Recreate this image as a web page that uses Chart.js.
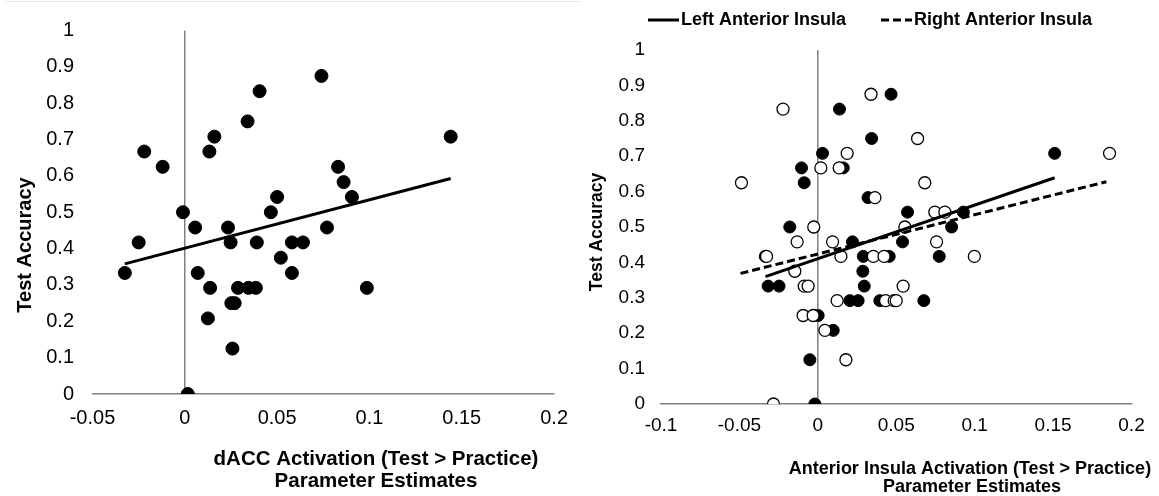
<!DOCTYPE html>
<html>
<head>
<meta charset="utf-8">
<script src="https://cdn.jsdelivr.net/npm/chart.js@4.4.1/dist/chart.umd.min.js"></script>
<style>
  html, body { margin: 0; padding: 0; background: #fff; }
  #wrap { position: relative; width: 1159px; height: 496px; overflow: hidden; }
  #topline { position: absolute; left: 5px; top: 1px; width: 575px; height: 1px; background: #e6e6e6; }
  .box { position: absolute; top: 0; height: 496px; }
  #leftBox { left: 0; width: 580px; }
  #rightBox { left: 580px; width: 579px; }
</style>
</head>
<body>
<div id="wrap">
  <div id="topline"></div>
  <div class="box" id="leftBox"><canvas id="daccChart"></canvas></div>
  <div class="box" id="rightBox"><canvas id="insulaChart"></canvas></div>
</div>
<script>
// ---- data ----
const yTicks = [0, 0.1, 0.2, 0.3, 0.4, 0.5, 0.6, 0.7, 0.8, 0.9, 1];
const daccXTicks = [-0.05, 0, 0.05, 0.1, 0.15, 0.2];
const insulaXTicks = [-0.1, -0.05, 0, 0.05, 0.1, 0.15, 0.2];

// dACC activation vs test accuracy
const daccX = [-0.0325, -0.025, -0.022, -0.012, -0.001, 0.0016, 0.0056, 0.007, 0.0125, 0.0133,
  0.0137, 0.016, 0.0234, 0.0248, 0.0252, 0.027, 0.0258, 0.0288, 0.034, 0.0345,
  0.0385, 0.039, 0.0405, 0.0466, 0.05, 0.052, 0.058, 0.058, 0.064, 0.074,
  0.077, 0.083, 0.086, 0.0905, 0.0986, 0.144];
const daccY = [0.333, 0.417, 0.667, 0.625, 0.5, 0, 0.458, 0.333, 0.208, 0.667,
  0.292, 0.708, 0.458, 0.417, 0.25, 0.25, 0.125, 0.292, 0.75, 0.292,
  0.292, 0.417, 0.833, 0.5, 0.542, 0.375, 0.417, 0.333, 0.417, 0.875,
  0.458, 0.625, 0.583, 0.542, 0.292, 0.708];
const daccFitX = [-0.0325, 0.144];
const daccFitY = [0.358, 0.593];

// left anterior insula (filled markers)
const leftInsX = [0.0138, 0.0467, 0.0343, 0.003, -0.0104, 0.0162, -0.0087, 0.151, 0.032, 0.0572,
  0.0928, 0.0853, -0.0179, 0.0221, 0.054, -0.0335, 0.029, 0.0455, 0.0774, 0.0287,
  -0.0317, -0.0247, 0.0296, 0.0204, 0.0257, 0.0395, 0.0676, 0.0002, 0.0098, -0.0051,
  -0.0019];
const leftInsY = [0.833, 0.875, 0.75, 0.708, 0.667, 0.667, 0.625, 0.708, 0.583, 0.542,
  0.542, 0.5, 0.5, 0.458, 0.458, 0.417, 0.417, 0.417, 0.417, 0.375,
  0.333, 0.333, 0.333, 0.292, 0.292, 0.292, 0.292, 0.25, 0.208, 0.125,
  0];
// right anterior insula (open markers)
const rightInsX = [-0.0222, 0.0339, 0.0636, 0.0187, 0.0019, 0.0136, -0.0487, 0.0682, 0.186, 0.0364,
  0.0746, 0.081, 0.0555, -0.0026, -0.0132, 0.0094, 0.0757, -0.0327, 0.0147, 0.0354,
  0.0422, 0.0998, -0.0147, -0.0087, -0.0062, 0.0544, 0.0123, 0.0432, 0.0487, 0.05,
  -0.0094, -0.003, 0.0045, 0.0179, -0.0283];
const rightInsY = [0.833, 0.875, 0.75, 0.708, 0.667, 0.667, 0.625, 0.625, 0.708, 0.583,
  0.542, 0.542, 0.5, 0.5, 0.458, 0.458, 0.458, 0.417, 0.417, 0.417,
  0.417, 0.417, 0.375, 0.333, 0.333, 0.333, 0.292, 0.292, 0.292, 0.292,
  0.25, 0.25, 0.208, 0.125, 0];
const leftFitX = [-0.0334, 0.151];
const leftFitY = [0.36, 0.639];
const rightFitX = [-0.0493, 0.184];
const rightFitY = [0.369, 0.628];

// ---- helpers ----
const FONT = "'Liberation Sans', Arial, Helvetica, sans-serif";
const axisGray = "#808080";

function toPoints(xs, ys) {
  return xs.map((x, i) => ({ x: x, y: ys[i] }));
}

function fmt(v) {
  return String(Math.round(v * 1000) / 1000);
}

function buildScales(xTicks, tickSize, xHeight, yWidth, xPad, yPad) {
  return {
    x: {
      type: "linear",
      min: xTicks[0],
      max: xTicks[xTicks.length - 1],
      afterBuildTicks: (s) => { s.ticks = xTicks.map((v) => ({ value: v })); },
      afterFit: (s) => { s.height = xHeight; },
      grid: {
        drawTicks: false,
        lineWidth: 1.5,
        color: (c) => (c.tick && c.tick.value === 0 ? axisGray : "rgba(0,0,0,0)"),
      },
      border: { display: true, color: axisGray, width: 1.5 },
      ticks: { padding: xPad, color: "#000", font: { size: tickSize, family: FONT }, callback: fmt, maxRotation: 0 },
    },
    y: {
      type: "linear",
      min: 0,
      max: 1,
      afterBuildTicks: (s) => { s.ticks = yTicks.map((v) => ({ value: v })); },
      afterFit: (s) => { s.width = yWidth; },
      grid: { display: false, drawTicks: false },
      border: { display: false },
      ticks: { padding: yPad, color: "#000", font: { size: tickSize, family: FONT }, callback: fmt },
    },
  };
}

// draws axis titles and the legend as canvas text
const textPlugin = {
  id: "figText",
  afterDraw(chart, args, opts) {
    const ctx = chart.ctx;
    ctx.save();
    ctx.fillStyle = "#000";
    (opts.titles || []).forEach((t) => {
      ctx.save();
      ctx.font = "bold " + t.size + "px " + FONT;
      ctx.textAlign = "center";
      ctx.textBaseline = "middle";
      ctx.translate(t.x, t.y);
      if (t.rotate) ctx.rotate(-Math.PI / 2);
      ctx.fillText(t.text, 0, 0);
      ctx.restore();
    });
    (opts.legend || []).forEach((l) => {
      ctx.save();
      ctx.strokeStyle = "#000";
      ctx.lineWidth = 3;
      ctx.setLineDash(l.dash);
      ctx.beginPath();
      ctx.moveTo(l.x, l.y);
      ctx.lineTo(l.x + 31, l.y);
      ctx.stroke();
      ctx.setLineDash([]);
      ctx.font = "bold 18px " + FONT;
      ctx.textAlign = "left";
      ctx.textBaseline = "middle";
      ctx.fillText(l.text, l.x + 33, l.y);
      ctx.restore();
    });
    ctx.restore();
  },
};

// ---- left: dACC ----
new Chart(document.getElementById("daccChart").getContext("2d"), {
  type: "scatter",
  data: {
    datasets: [
      {
        label: "Trend",
        data: toPoints(daccFitX, daccFitY),
        showLine: true,
        borderColor: "#000",
        borderWidth: 3,
        pointRadius: 0,
        fill: false,
      },
      {
        label: "dACC",
        data: toPoints(daccX, daccY),
        pointRadius: 6.5,
        backgroundColor: "#000",
        borderColor: "#000",
        borderWidth: 1,
      },
    ],
  },
  options: {
    responsive: true,
    maintainAspectRatio: false,
    animation: false,
    events: [],
    layout: { padding: { top: 18, right: 25, left: 0, bottom: 0 } },
    plugins: {
      legend: { display: false },
      tooltip: { enabled: false },
      figText: {
        titles: [
          { text: "Test Accuracy", x: 25, y: 245, size: 20, rotate: true },
          { text: "dACC Activation (Test > Practice)", x: 376, y: 459, size: 20.5 },
          { text: "Parameter Estimates", x: 376, y: 481, size: 20.5 },
        ],
      },
    },
    scales: buildScales(daccXTicks, 20, 102, 92.5, 12, 18.5),
  },
  plugins: [textPlugin],
});

// ---- right: anterior insula ----
new Chart(document.getElementById("insulaChart").getContext("2d"), {
  type: "scatter",
  data: {
    datasets: [
      {
        label: "Left Anterior Insula",
        data: toPoints(leftFitX, leftFitY),
        showLine: true,
        borderColor: "#000",
        borderWidth: 3,
        pointRadius: 0,
        fill: false,
      },
      {
        label: "Right Anterior Insula",
        data: toPoints(rightFitX, rightFitY),
        showLine: true,
        borderColor: "#000",
        borderWidth: 3,
        borderDash: [8, 4],
        pointRadius: 0,
        fill: false,
      },
      {
        label: "Right Anterior Insula points",
        data: toPoints(rightInsX, rightInsY),
        pointRadius: 6,
        backgroundColor: "#fff",
        borderColor: "#000",
        borderWidth: 1.3,
      },
      {
        label: "Left Anterior Insula points",
        data: toPoints(leftInsX, leftInsY),
        pointRadius: 6,
        backgroundColor: "#000",
        borderColor: "#000",
        borderWidth: 1,
      },
    ],
  },
  options: {
    responsive: true,
    maintainAspectRatio: false,
    animation: false,
    events: [],
    layout: { padding: { top: 50, right: 27.5, left: 0, bottom: 0 } },
    plugins: {
      legend: { display: false },
      tooltip: { enabled: false },
      figText: {
        titles: [
          { text: "Test Accuracy", x: 17, y: 232, size: 17.5, rotate: true },
          { text: "Anterior Insula Activation (Test > Practice)", x: 390, y: 469, size: 18 },
          { text: "Parameter Estimates", x: 392, y: 487, size: 18 },
        ],
        legend: [
          { text: "Left Anterior Insula", x: 68, y: 20, dash: [] },
          { text: "Right Anterior Insula", x: 301, y: 20, dash: [8, 4] },
        ],
      },
    },
    scales: buildScales(insulaXTicks, 19, 92, 81, 10, 16),
  },
  plugins: [textPlugin],
});
</script>
</body>
</html>
